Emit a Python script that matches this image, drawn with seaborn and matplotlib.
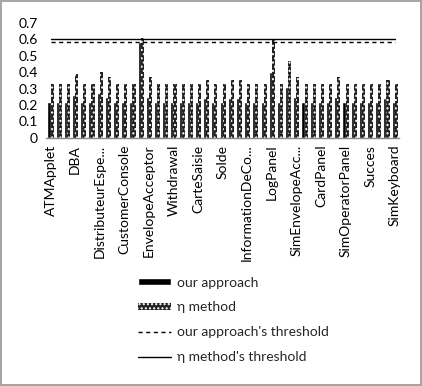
import matplotlib
matplotlib.use("Agg")
import matplotlib.pyplot as plt
import numpy as np
import pandas as pd
import seaborn as sns
from matplotlib.lines import Line2D

sns.set_theme(style='white')
plt.rcParams['font.family'] = ['Lato', 'DejaVu Sans']
plt.rcParams['hatch.linewidth'] = 1.0

# 43 classes, only every third name is printed on the axis
shown_labels = ['ATMApplet', 'DBA', 'DistributeurEspe...', 'CustomerConsole',
                'EnvelopeAcceptor', 'Withdrawal', 'CarteSaisie', 'Solde',
                'InformationDeCo...', 'LogPanel', 'SimEnvelopeAcc...', 'CardPanel',
                'SimOperatorPanel', 'Succes', 'SimKeyboard']
label_step = 3

our_approach = [0.22, 0.22, 0.22, 0.26, 0.22, 0.22, 0.27, 0.25, 0.22, 0.22,
                0.22, 0.58, 0.25, 0.22, 0.22, 0.22, 0.22, 0.22, 0.22, 0.24,
                0.22, 0.22, 0.24, 0.24, 0.22, 0.22, 0.22, 0.40, 0.22, 0.31,
                0.25, 0.22, 0.22, 0.22, 0.22, 0.25, 0.22, 0.22, 0.22, 0.22,
                0.22, 0.24, 0.22]
eta_method = [0.33, 0.33, 0.33, 0.39, 0.33, 0.33, 0.40, 0.37, 0.33, 0.33,
              0.33, 0.61, 0.37, 0.33, 0.33, 0.33, 0.33, 0.33, 0.33, 0.35,
              0.33, 0.33, 0.35, 0.35, 0.33, 0.33, 0.33, 0.60, 0.33, 0.47,
              0.37, 0.33, 0.33, 0.33, 0.33, 0.37, 0.33, 0.33, 0.33, 0.33,
              0.33, 0.35, 0.33]
our_threshold = 0.58
eta_threshold = 0.60

n = len(our_approach)
idx = list(range(n))
df = pd.DataFrame({
    'cls': idx * 2,
    'value': our_approach + eta_method,
    'method': ['our approach'] * n + ['η method'] * n,
})

fig = plt.figure(figsize=(4.22, 3.86), dpi=100, edgecolor='#a6a6a6', linewidth=1.5)
ax = fig.add_axes([0.110, 0.643, 0.835, 0.298])

sns.barplot(data=df, x='cls', y='value', hue='method', palette=['black', '#222222'],
            width=0.75, saturation=1, legend=False, ax=ax)
# dotted pattern: dark bar with light dots
for bar in ax.containers[1]:
    bar.set_facecolor('#222222')
    bar.set_edgecolor('white')
    bar.set_hatch('....')
    bar.set_linewidth(0)

sns.lineplot(x=idx, y=[our_threshold] * n, color='black', lw=1,
             linestyle=(0, (3, 2.5)), ax=ax)
sns.lineplot(x=idx, y=[eta_threshold] * n, color='black', lw=1, ax=ax)

ax.set_xlim(-0.5, n - 0.5)
ax.set_ylim(0, 0.7)
ax.set_yticks(np.arange(0, 0.71, 0.1))
ax.set_yticklabels(['0', '0.1', '0.2', '0.3', '0.4', '0.5', '0.6', '0.7'])
ax.set_xticks(idx[::label_step])
ax.set_xticklabels(shown_labels, rotation=90)
ax.tick_params(axis='y', length=0, pad=6, labelsize=10, colors='black')
ax.tick_params(axis='x', length=0, pad=5, labelsize=10, colors='black')
ax.set_xlabel('')
ax.set_ylabel('')
for s in ['top', 'right', 'left']:
    ax.spines[s].set_visible(False)
ax.spines['bottom'].set_color('#888888')
ax.spines['bottom'].set_linewidth(1)

handles = [ax.containers[0], ax.containers[1],
           Line2D([], [], color='black', lw=1, linestyle=(0, (3, 2.5))),
           Line2D([], [], color='black', lw=1)]
labels = ['our approach', 'η method', "our approach's threshold", "η method's threshold"]
fig.legend(handles, labels, loc='upper left', bbox_to_anchor=(0.297, 0.316),
           frameon=False, fontsize=10, labelspacing=0.93, handlelength=2.4,
           handleheight=0.45, handletextpad=0.45)

fig.savefig('out.png', dpi=100)
